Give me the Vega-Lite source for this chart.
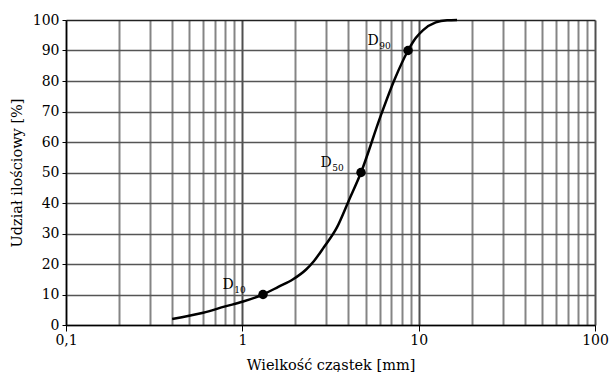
{
  "$schema": "https://vega.github.io/schema/vega-lite/v6.json",
  "autosize": "none",
  "width": 529,
  "height": 305,
  "padding": {"left": 66, "top": 20, "right": 19, "bottom": 47},
  "background": "white",
  "config": {
    "view": {"stroke": null},
    "font": "DejaVu Serif"
  },
  "datasets": {
    "curve": [
      {"d": 0.4, "p": 2},
      {"d": 0.6, "p": 4},
      {"d": 0.8, "p": 6.1},
      {"d": 1.0, "p": 7.6},
      {"d": 1.31, "p": 10},
      {"d": 1.6, "p": 12.5},
      {"d": 1.94, "p": 15},
      {"d": 2.3, "p": 18.2},
      {"d": 2.55, "p": 21},
      {"d": 2.9, "p": 25.5},
      {"d": 3.44, "p": 32},
      {"d": 4.03, "p": 41},
      {"d": 4.71, "p": 50},
      {"d": 6.04, "p": 68},
      {"d": 7.3, "p": 80.5},
      {"d": 8.71, "p": 90},
      {"d": 9.6, "p": 94},
      {"d": 10.6, "p": 96.7},
      {"d": 12.5, "p": 99.2},
      {"d": 14.5, "p": 99.9},
      {"d": 16.5, "p": 100}
    ],
    "marks": [
      {"d": 1.31, "p": 10, "name": "D", "sub": "10"},
      {"d": 4.71, "p": 50, "name": "D", "sub": "50"},
      {"d": 8.71, "p": 90, "name": "D", "sub": "90"}
    ]
  },
  "encoding": {
    "x": {
      "field": "d", "type": "quantitative",
      "scale": {"type": "log", "domain": [0.1, 100]},
      "axis": {
        "values": [0.1,0.2,0.3,0.4,0.5,0.6,0.7,0.8,0.9,1,2,3,4,5,6,7,8,9,10,20,30,40,50,60,70,80,90,100],
        "labelExpr": "datum.value == 0.1 ? '0,1' : (datum.value == 1 || datum.value == 10 || datum.value == 100) ? format(datum.value, 'd') : ''",
        "labelOverlap": false,
        "grid": true,
        "gridColor": {"condition": {"test": "datum.value == 1 || datum.value == 10 || datum.value == 100", "value": "#505050"}, "value": "#858585"},
        "gridWidth": 2,
        "domainColor": "black",
        "domainWidth": 1.5,
        "tickColor": "black",
        "tickSize": 6,
        "tickOpacity": {"condition": {"test": "datum.value == 0.1 || datum.value == 1 || datum.value == 10 || datum.value == 100", "value": 1}, "value": 0},
        "labelFont": "DejaVu Serif",
        "labelFontSize": 14,
        "labelColor": "black",
        "labelPadding": 2,
        "labelFlush": false,
        "title": "Wielkość cząstek [mm]",
        "titleFont": "DejaVu Serif",
        "titleFontSize": 14.5,
        "titleFontWeight": "normal",
        "titleColor": "black",
        "titlePadding": 11
      }
    },
    "y": {
      "field": "p", "type": "quantitative",
      "scale": {"domain": [0, 100], "nice": false},
      "axis": {
        "values": [0,10,20,30,40,50,60,70,80,90,100],
        "labelOverlap": false,
        "grid": true,
        "gridColor": {"condition": {"test": "datum.value == 100", "value": "#222222"}, "value": "#555555"},
        "gridWidth": 1.5,
        "domainColor": "black",
        "domainWidth": 1.5,
        "tickColor": "black",
        "tickSize": 4,
        "labelFont": "DejaVu Serif",
        "labelFontSize": 14,
        "labelColor": "black",
        "labelPadding": 3,
        "title": "Udział ilościowy [%]",
        "titleFont": "DejaVu Serif",
        "titleFontSize": 14.5,
        "titleFontWeight": "normal",
        "titleColor": "black",
        "titlePadding": 8
      }
    }
  },
  "layer": [
    {
      "data": {"name": "curve"},
      "mark": {"type": "line", "color": "black", "strokeWidth": 2.5, "interpolate": "monotone"}
    },
    {
      "data": {"name": "marks"},
      "mark": {"type": "point", "filled": true, "color": "black", "size": 90, "opacity": 1}
    },
    {
      "data": {"name": "marks"},
      "mark": {"type": "text", "fontSize": 14, "dx": -35, "dy": -10, "fill": "black", "font": "DejaVu Serif"},
      "encoding": {"text": {"field": "name"}}
    },
    {
      "data": {"name": "marks"},
      "mark": {"type": "text", "fontSize": 9, "dx": -23, "dy": -5, "fill": "black", "font": "DejaVu Serif"},
      "encoding": {"text": {"field": "sub"}}
    }
  ]
}
